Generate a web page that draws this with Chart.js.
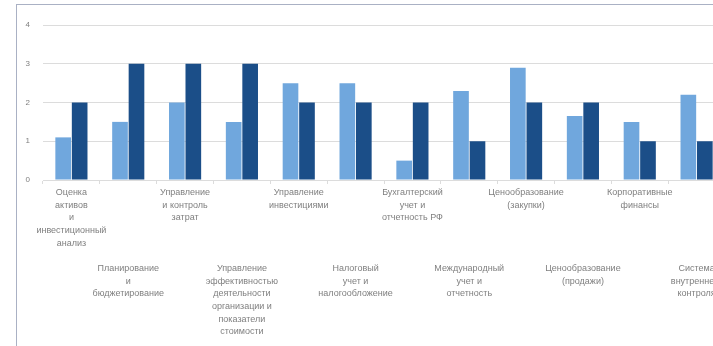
<!DOCTYPE html>
<html>
<head>
<meta charset="utf-8">
<script src="https://cdn.jsdelivr.net/npm/chart.js@4/dist/chart.umd.min.js"></script>
<style>
  html, body { margin: 0; padding: 0; background: #fff; overflow: hidden; }
  #frame {
    position: absolute; left: 16px; top: 4px;
    border-left: 1px solid #aab1c4; border-top: 1px solid #aab1c4;
    width: 720px; height: 345px;
  }
  #wrap { position: absolute; left: 0; top: 0; width: 708px; height: 341px; }
</style>
</head>
<body>
<div id="frame"><div id="wrap"><canvas id="barChart"></canvas></div></div>
<script>
// categories (line breaks as in the picture)
var categories = [
    ["Оценка", "активов", "и", "инвестиционный", "анализ"],
    ["Планирование", "и", "бюджетирование"],
    ["Управление", "и контроль", "затрат"],
    ["Управление", "эффективностью", "деятельности", "организации и", "показатели", "стоимости"],
    ["Управление", "инвестициями"],
    ["Налоговый", "учет и", "налогообложение"],
    ["Бухгалтерский", "учет и", "отчетность РФ"],
    ["Международный", "учет и", "отчетность"],
    ["Ценообразование", "(закупки)"],
    ["Ценообразование", "(продажи)"],
    ["Корпоративные", "финансы"],
    ["Система", "внутреннего", "контроля"]
];
var series1 = [1.1, 1.5, 2, 1.5, 2.5, 2.5, 0.5, 2.3, 2.9, 1.65, 1.5, 2.2];
var series2 = [2, 3, 3, 3, 2, 2, 2, 1, 2, 2, 1, 1];
var yTicks = [0, 1, 2, 3, 4];

var textColor = "#7f7f7f";
var gridColor = "#dcdcdc";

new Chart(document.getElementById("barChart"), {
    type: "bar",
    data: {
        labels: categories,
        datasets: [{
            label: "Ряд 1",
            data: series1,
            backgroundColor: "#70a7dd",
            categoryPercentage: 0.58,
            barPercentage: 0.95
        }, {
            label: "Ряд 2",
            data: series2,
            backgroundColor: "#1b4e88",
            categoryPercentage: 0.58,
            barPercentage: 0.95
        }]
    },
    options: {
        responsive: true,
        maintainAspectRatio: false,
        animation: false,
        layout: { padding: { top: 20, left: 0, right: 0, bottom: 0 } },
        plugins: { legend: { display: false }, tooltip: { enabled: false } },
        scales: {
            x: {
                grid: { display: true, drawOnChartArea: false, color: gridColor, tickLength: 4, offset: true },
                border: { color: gridColor },
                ticks: {
                    autoSkip: false, maxRotation: 0, minRotation: 0, padding: 2,
                    color: textColor,
                    font: { family: "Liberation Sans", size: 9, lineHeight: 1.41 },
                    // every second label sits on a lower row
                    callback: function (value, index) {
                        var lines = categories[index];
                        if (index % 2 === 1) {
                            return ["", "", "", "", "", ""].concat(lines);
                        }
                        return lines;
                    }
                },
                afterFit: function (scale) {
                    scale.height = 166;
                    scale.paddingLeft = 0;
                    scale.paddingRight = 0;
                }
            },
            y: {
                min: 0, max: 4,
                afterBuildTicks: function (scale) {
                    scale.ticks = yTicks.map(function (v) { return { value: v }; });
                },
                grid: { color: gridColor, drawTicks: false },
                border: { display: false },
                ticks: {
                    padding: 13, color: textColor,
                    font: { family: "Liberation Sans", size: 8 }
                },
                afterFit: function (scale) {
                    scale.width = 26;
                }
            }
        }
    }
});
</script>
</body>
</html>
